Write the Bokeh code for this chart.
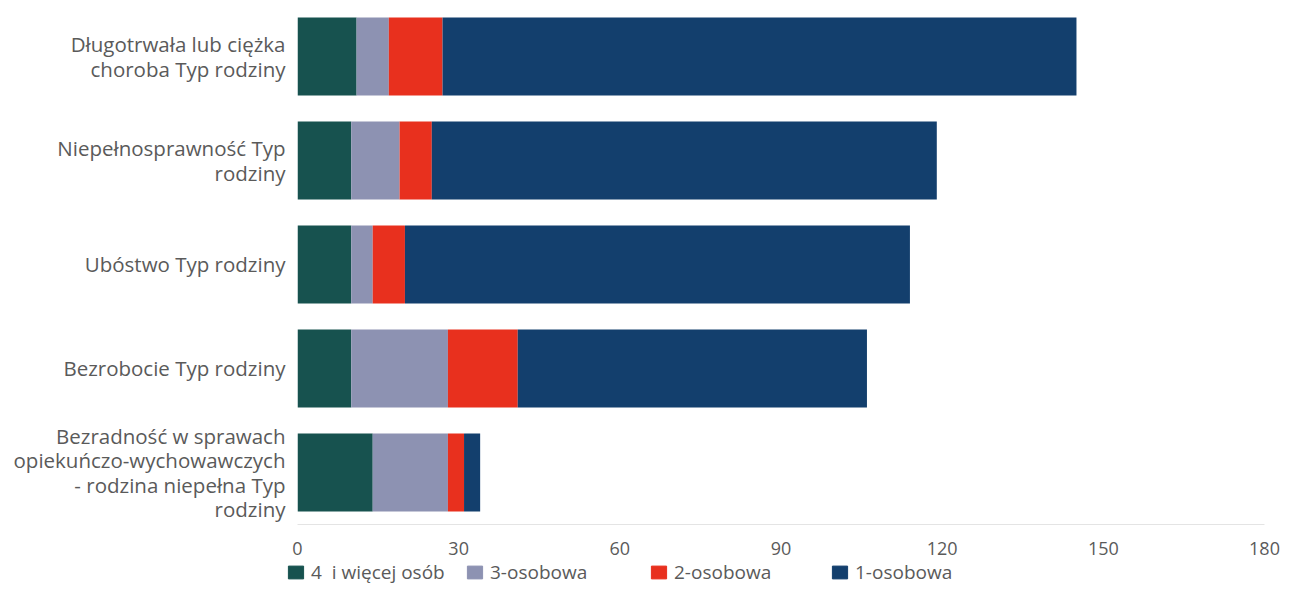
from bokeh.plotting import figure
from bokeh.layouts import column
from bokeh.models import ColumnDataSource, Range1d, FixedTicker, Legend, LegendItem
from bokeh.embed import file_html
from bokeh.resources import INLINE

categories = [
    "Długotrwała lub ciężka\nchoroba Typ rodziny",
    "Niepełnosprawność Typ\nrodziny",
    "Ubóstwo Typ rodziny",
    "Bezrobocie Typ rodziny",
    "Bezradność w sprawach\nopiekuńczo-wychowawczych\n- rodzina niepełna Typ\nrodziny",
]
series = ["4  i więcej osób", "3-osobowa", "2-osobowa", "1-osobowa"]
s4plus = [11, 10, 10, 10, 14]
s3 = [6, 9, 4, 18, 14]
s2 = [10, 6, 6, 13, 3]
s1 = [118, 94, 94, 65, 3]
colors = ["#17524f", "#8d92b2", "#e8301e", "#133f6d"]
x_ticks = [0, 30, 60, 90, 120, 150, 180]

FONT = "Open Sans"
TXT = "#5a5a5a"

n = len(categories)
ypos = [n - 1 - i for i in range(n)]
src = ColumnDataSource(dict(y=ypos, a=s4plus, b=s3, c=s2, d=s1))
fields = ["a", "b", "c", "d"]

p = figure(width=1280, height=558, output_backend="svg", toolbar_location=None,
           x_range=Range1d(0, 180), y_range=Range1d(-0.5, n - 1 + 0.4615),
           min_border_left=297, min_border_right=16, min_border_top=8, min_border_bottom=34)
p.outline_line_color = None
p.xgrid.grid_line_color = None
p.ygrid.grid_line_color = None

rs = p.hbar_stack(fields, y="y", height=0.75, color=colors, source=src, line_color=None)

p.xaxis.ticker = FixedTicker(ticks=x_ticks)
p.xaxis.axis_line_color = "#e4e4e4"
p.xaxis.major_tick_line_color = None
p.xaxis.minor_tick_line_color = None
p.xaxis.major_label_standoff = 11
p.xaxis.major_label_text_font = FONT
p.xaxis.major_label_text_font_size = "18px"
p.xaxis.major_label_text_color = TXT

p.yaxis.ticker = FixedTicker(ticks=ypos)
p.yaxis.major_label_overrides = {y: c for y, c in zip(ypos, categories)}
p.yaxis.axis_line_color = None
p.yaxis.major_tick_line_color = None
p.yaxis.minor_tick_line_color = None
p.yaxis.major_label_standoff = 6
p.yaxis.major_label_text_font = FONT
p.yaxis.major_label_text_font_size = "20.5px"
p.yaxis.major_label_text_color = TXT
p.yaxis.major_label_text_line_height = 0.88

# legend strip (proxy renderers are hidden; only their legend swatches show)
p2 = figure(width=1280, height=28, output_backend="svg", toolbar_location=None,
            x_range=Range1d(0, 1), y_range=Range1d(0, 1), min_border=0,
            x_axis_type=None, y_axis_type=None)
p2.frame_align = False
p2.outline_line_color = None
p2.xgrid.grid_line_color = None
p2.ygrid.grid_line_color = None
leg_x = [286, 465, 649, 830]
for lab, col, fld, lx in zip(series, colors, fields, leg_x):
    r = p2.hbar(y="y", right=fld, height=0.5, color=col, source=src, visible=False)
    lg = Legend(items=[LegendItem(label=lab, renderers=[r])], location=(lx, 1),
                orientation="horizontal", padding=0, margin=0, border_line_color=None,
                background_fill_alpha=0, glyph_width=19, glyph_height=16, label_standoff=6,
                label_text_font=FONT, label_text_font_size="19px", label_text_color=TXT)
    p2.add_layout(lg, "center")

open("out.html", "w").write(file_html(column(p, p2, spacing=0), INLINE))
